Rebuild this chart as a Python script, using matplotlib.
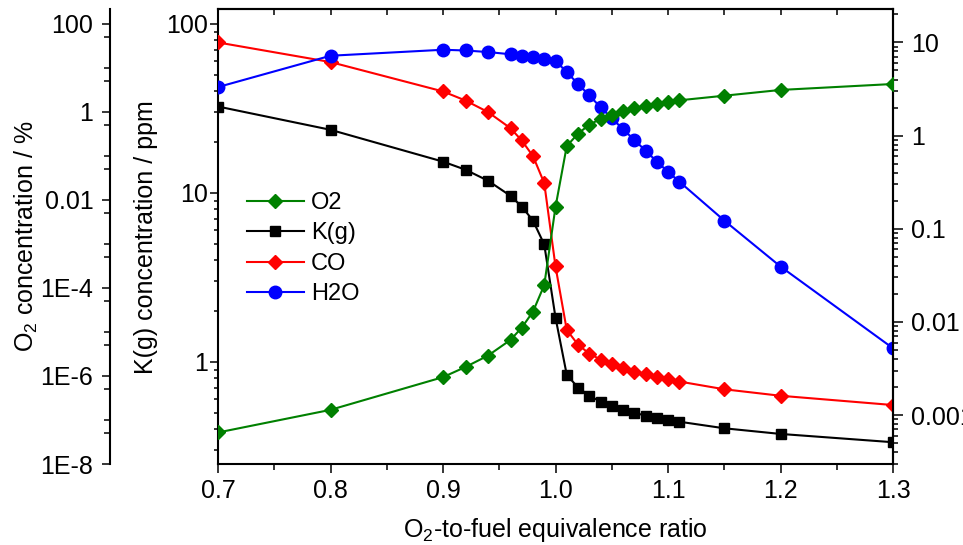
import matplotlib
matplotlib.use('Agg')
import matplotlib.pyplot as plt
from matplotlib.ticker import FixedLocator, FixedFormatter, LogLocator, NullFormatter, MultipleLocator

plt.rcParams['font.family'] = ['Liberation Sans', 'DejaVu Sans']
plt.rcParams['mathtext.fontset'] = 'custom'
plt.rcParams['mathtext.rm'] = 'Liberation Sans'
plt.rcParams['mathtext.it'] = 'Liberation Sans:italic'

# O2-to-fuel equivalence ratio
ratio = [0.7, 0.8, 0.9, 0.92, 0.94, 0.96, 0.97, 0.98, 0.99, 1.0, 1.01, 1.02,
         1.03, 1.04, 1.05, 1.06, 1.07, 1.08, 1.09, 1.1, 1.11, 1.15, 1.2, 1.3]

# O2 (%), left outer axis
o2 = [5.2e-8, 1.7e-7, 9.4e-7, 1.6e-6, 2.9e-6, 6.6e-6, 1.25e-5, 2.9e-5, 1.16e-4,
      6.9e-3, 0.167, 0.32, 0.51, 0.69, 0.85, 1.05, 1.2, 1.37, 1.54, 1.68, 1.83,
      2.33, 3.15, 4.3]
# K(g) (ppm), main axis
k_g = [32.4, 23.6, 15.3, 13.7, 11.8, 9.6, 8.3, 6.85, 4.95, 1.83, 0.84, 0.705,
       0.632, 0.582, 0.549, 0.52, 0.501, 0.481, 0.464, 0.454, 0.443, 0.405,
       0.375, 0.335]
# CO (%), right axis
co = [10.0, 6.16, 2.98, 2.38, 1.79, 1.2, 0.886, 0.602, 0.309, 0.0394, 0.0082,
      0.0057, 0.00457, 0.00394, 0.00349, 0.00321, 0.00292, 0.00276, 0.00258,
      0.00243, 0.00229, 0.00189, 0.00161, 0.00128]
# H2O (%), right axis
h2o = [3.32, 7.2, 8.35, 8.2, 7.89, 7.47, 7.2, 6.97, 6.71, 6.39, 4.79, 3.6, 2.7,
       2.02, 1.54, 1.17, 0.9, 0.69, 0.527, 0.409, 0.321, 0.1225, 0.0393, 0.00521]

x_ticks = [0.7, 0.8, 0.9, 1.0, 1.1, 1.2, 1.3]
x_labels = ['0.7', '0.8', '0.9', '1.0', '1.1', '1.2', '1.3']
k_ticks = [1, 10, 100]
k_labels = ['1', '10', '100']
o2_ticks = [1e-8, 1e-6, 1e-4, 1e-2, 1, 100]
o2_labels = ['1E-8', '1E-6', '1E-4', '0.01', '1', '100']
o2_minor = [5e-8, 1e-7, 5e-7, 5e-6, 1e-5, 5e-5, 5e-4, 1e-3, 5e-3,
            5e-2, 0.1, 0.5, 5, 10, 50]
r_ticks = [0.001, 0.01, 0.1, 1, 10]
r_labels = ['0.001', '0.01', '0.1', '1', '10']

fs = 18
lw = 1.5

fig = plt.figure(figsize=(9.63, 5.45), dpi=100)
ax = fig.add_axes([218 / 963, 1 - 464 / 545, 675 / 963, 454.7 / 545])

# main K(g) axis
ax.set_xlim(0.7, 1.3)
ax.set_yscale('log')
ax.set_ylim(0.249, 121.8)
ax.yaxis.set_major_locator(FixedLocator(k_ticks))
ax.yaxis.set_major_formatter(FixedFormatter(k_labels))
ax.yaxis.set_minor_locator(LogLocator(base=10, subs=range(2, 10)))
ax.yaxis.set_minor_formatter(NullFormatter())
ax.xaxis.set_major_locator(FixedLocator(x_ticks))
ax.xaxis.set_major_formatter(FixedFormatter(x_labels))
ax.xaxis.set_minor_locator(MultipleLocator(0.05))
ax.tick_params(axis='x', which='major', direction='out', length=6.5, width=1.1,
               labelsize=fs, pad=4)
ax.tick_params(axis='x', which='minor', direction='out', length=4, width=1.1)
ax.tick_params(axis='y', which='major', direction='out', length=5.5, width=1.1,
               labelsize=fs, pad=2)
ax.tick_params(axis='y', which='minor', direction='out', length=3, width=1.1)
ax.tick_params(right=False, which='both')
for s in ax.spines.values():
    s.set_linewidth(lw)
ax.set_ylabel('K(g) concentration / ppm', fontsize=fs)
ax.yaxis.set_label_coords(-0.089, 0.5)
ax.set_xlabel('O$_2$-to-fuel equivalence ratio', fontsize=fs, labelpad=10)

# top ticks pointing in
top = ax.secondary_xaxis('top')
top.xaxis.set_major_locator(MultipleLocator(0.1))
top.xaxis.set_minor_locator(MultipleLocator(0.05))
top.tick_params(which='both', direction='in', length=4.5, width=1.1, labeltop=False)
top.spines['top'].set_linewidth(lw)

# right axis: CO and H2O
axr = ax.twinx()
axr.set_yscale('log')
axr.set_ylim(2.98e-4, 22.7)
axr.yaxis.set_major_locator(FixedLocator(r_ticks))
axr.yaxis.set_major_formatter(FixedFormatter(r_labels))
axr.yaxis.set_minor_locator(LogLocator(base=10, subs=range(2, 10)))
axr.yaxis.set_minor_formatter(NullFormatter())
axr.tick_params(which='major', direction='out', length=7, width=1.1, labelsize=fs, pad=6)
axr.tick_params(which='minor', direction='out', length=3.5, width=1.1)
for name, s in axr.spines.items():
    s.set_visible(name == 'right')
    s.set_linewidth(lw)

# outer left axis: O2 (108 px left of the main frame)
axo = ax.twinx()
axo.set_yscale('log')
axo.set_ylim(1e-8, 214)
axo.yaxis.set_ticks_position('left')
axo.yaxis.set_label_position('left')
axo.spines['left'].set_position(('outward', 108 * 72 / 100))
for name, s in axo.spines.items():
    s.set_visible(name == 'left')
    s.set_linewidth(lw)
axo.yaxis.set_major_locator(FixedLocator(o2_ticks))
axo.yaxis.set_major_formatter(FixedFormatter(o2_labels))
axo.yaxis.set_minor_locator(FixedLocator(o2_minor))
axo.yaxis.set_minor_formatter(NullFormatter())
axo.tick_params(which='major', direction='out', length=6, width=1.1, labelsize=fs, pad=6)
axo.tick_params(which='minor', direction='out', length=4, width=1.1)
axo.set_ylabel('O$_2$ concentration / %', fontsize=fs)
axo.yaxis.set_label_coords(-0.263, 0.5)

l_k, = ax.plot(ratio, k_g, color='black', marker='s', ms=7.5, lw=lw, label='K(g)')
l_co, = axr.plot(ratio, co, color='red', marker='D', ms=7, lw=lw, label='CO')
l_h2o, = axr.plot(ratio, h2o, color='blue', marker='o', ms=9, lw=lw, label='H2O')
l_o2, = axo.plot(ratio, o2, color='green', marker='D', ms=7, lw=lw, label='O2')

fig.legend([l_o2, l_k, l_co, l_h2o], ['O2', 'K(g)', 'CO', 'H2O'],
           loc='upper left', bbox_to_anchor=(247 / 963, 1 - 192 / 545),
           frameon=False, fontsize=17, handlelength=2.4, handletextpad=0.3,
           labelspacing=0.36, borderpad=0, borderaxespad=0)

fig.savefig('out.png', dpi=100)
